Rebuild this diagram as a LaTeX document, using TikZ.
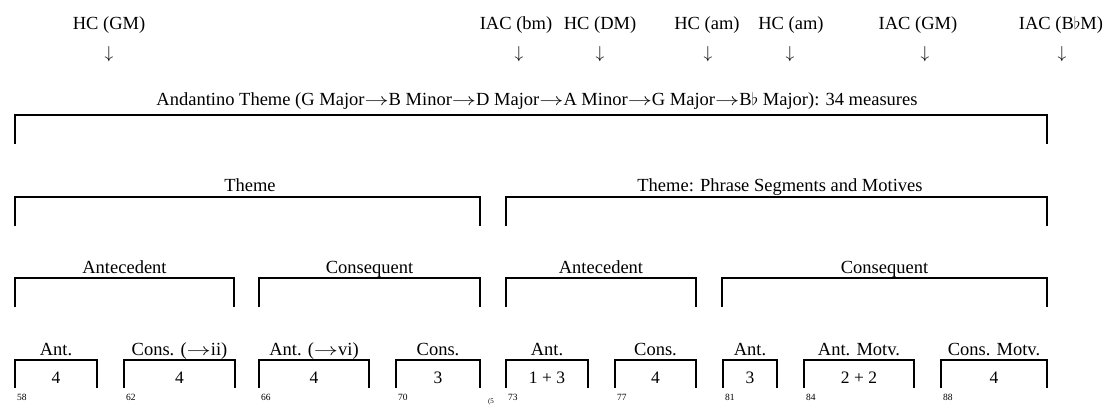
\documentclass[tikz,border=0pt]{standalone}
\usepackage{fontspec}
\usepackage{graphicx}
\setmainfont{Liberation Serif}
\newcommand{\lblfont}{\fontsize{18.5}{20}\selectfont}
\newcommand{\numfont}{\fontsize{17.5}{19}\selectfont}
\newcommand{\msfont}{\fontsize{9.5}{10}\selectfont}
\newcommand{\ra}{\scalebox{1.4}[1]{$\rightarrow$}}
\begin{document}
\begin{tikzpicture}[x=1pt,y=-1pt,
  lbl/.style={font=\lblfont, inner sep=0pt, anchor=base},
  arr/.style={font=\fontsize{16}{17}\selectfont, inner sep=0pt},
  num/.style={font=\numfont, inner sep=0pt, anchor=base},
  ms/.style={font=\msfont, inner sep=0pt, anchor=base west},
  brk/.style={line width=2.8pt, line join=miter, line cap=butt}]
\useasboundingbox (0,0) rectangle (1109,407);
% cadence labels
\foreach \n/\tx/\ax/\t in {c1/109/109/{HC (GM)}, c2/516/519/{IAC (bm)}, c3/600/600/{HC (DM)},
  c4/707/708/{HC (am)}, c5/791/790/{HC (am)}, c6/918/925/{IAC (GM)}, c7/1061/1062/{IAC (B$\flat$M)}}{
  \node[lbl] (\n) at (\tx,29) {\t};
  \node[arr] (\n a) at (\ax,54) {$\downarrow$};
}
% level 1
\node[lbl] (andantino) at (537,105) {Andantino Theme (G Major\ra B Minor\ra D Major\ra A Minor\ra G Major\ra B{$\flat$} Major): 34 measures};
\draw[brk] (15,144) |- (1047,115) -- (1047,144);
% level 2
\node[lbl] (theme) at (250,191) {Theme};
\draw[brk] (15,226) |- (480,197) -- (480,226);
\node[lbl] (themeps) at (780,191) {Theme: Phrase Segments and Motives};
\draw[brk] (506,226) |- (1047,197) -- (1047,226);
% level 3
\foreach \n/\a/\b/\t in {p1/15/234/Antecedent, p2/259/480/Consequent, p3/506/696/Antecedent, p4/722/1047/Consequent}{
  \node[lbl] (\n) at ({(\a+\b)/2},273) {\t};
  \draw[brk] (\a,307) |- (\b,278) -- (\b,307);
}
% level 4
\foreach \n/\a/\b/\t/\v/\m in {s1/15/97/{Ant.}/4/58, s2/124/235/{Cons. (\ra ii)}/4/62, s3/259/369/{Ant. (\ra vi)}/4/66,
  s4/396/480/{Cons.}/3/70, s5/506/588/{Ant.}/{1 + 3}/73, s6/615/696/{Cons.}/4/77, s7/723/777/{Ant.}/3/81,
  s8/804/914/{Ant. Motv.}/{2 + 2}/84, s9/941/1047/{Cons. Motv.}/4/88}{
  \node[lbl] (\n) at ({(\a+\b)/2},355) {\t};
  \node[num] (\n v) at ({(\a+\b)/2},383) {\v};
  \node[ms] (\n m) at (\a+2,400) {\m};
  \draw[brk] (\a,388) |- (\b,360) -- (\b,388);
}
\node[font=\fontsize{7}{8}\selectfont, inner sep=0pt] (mark) at (491,402) {(5};
\end{tikzpicture}
\end{document}
